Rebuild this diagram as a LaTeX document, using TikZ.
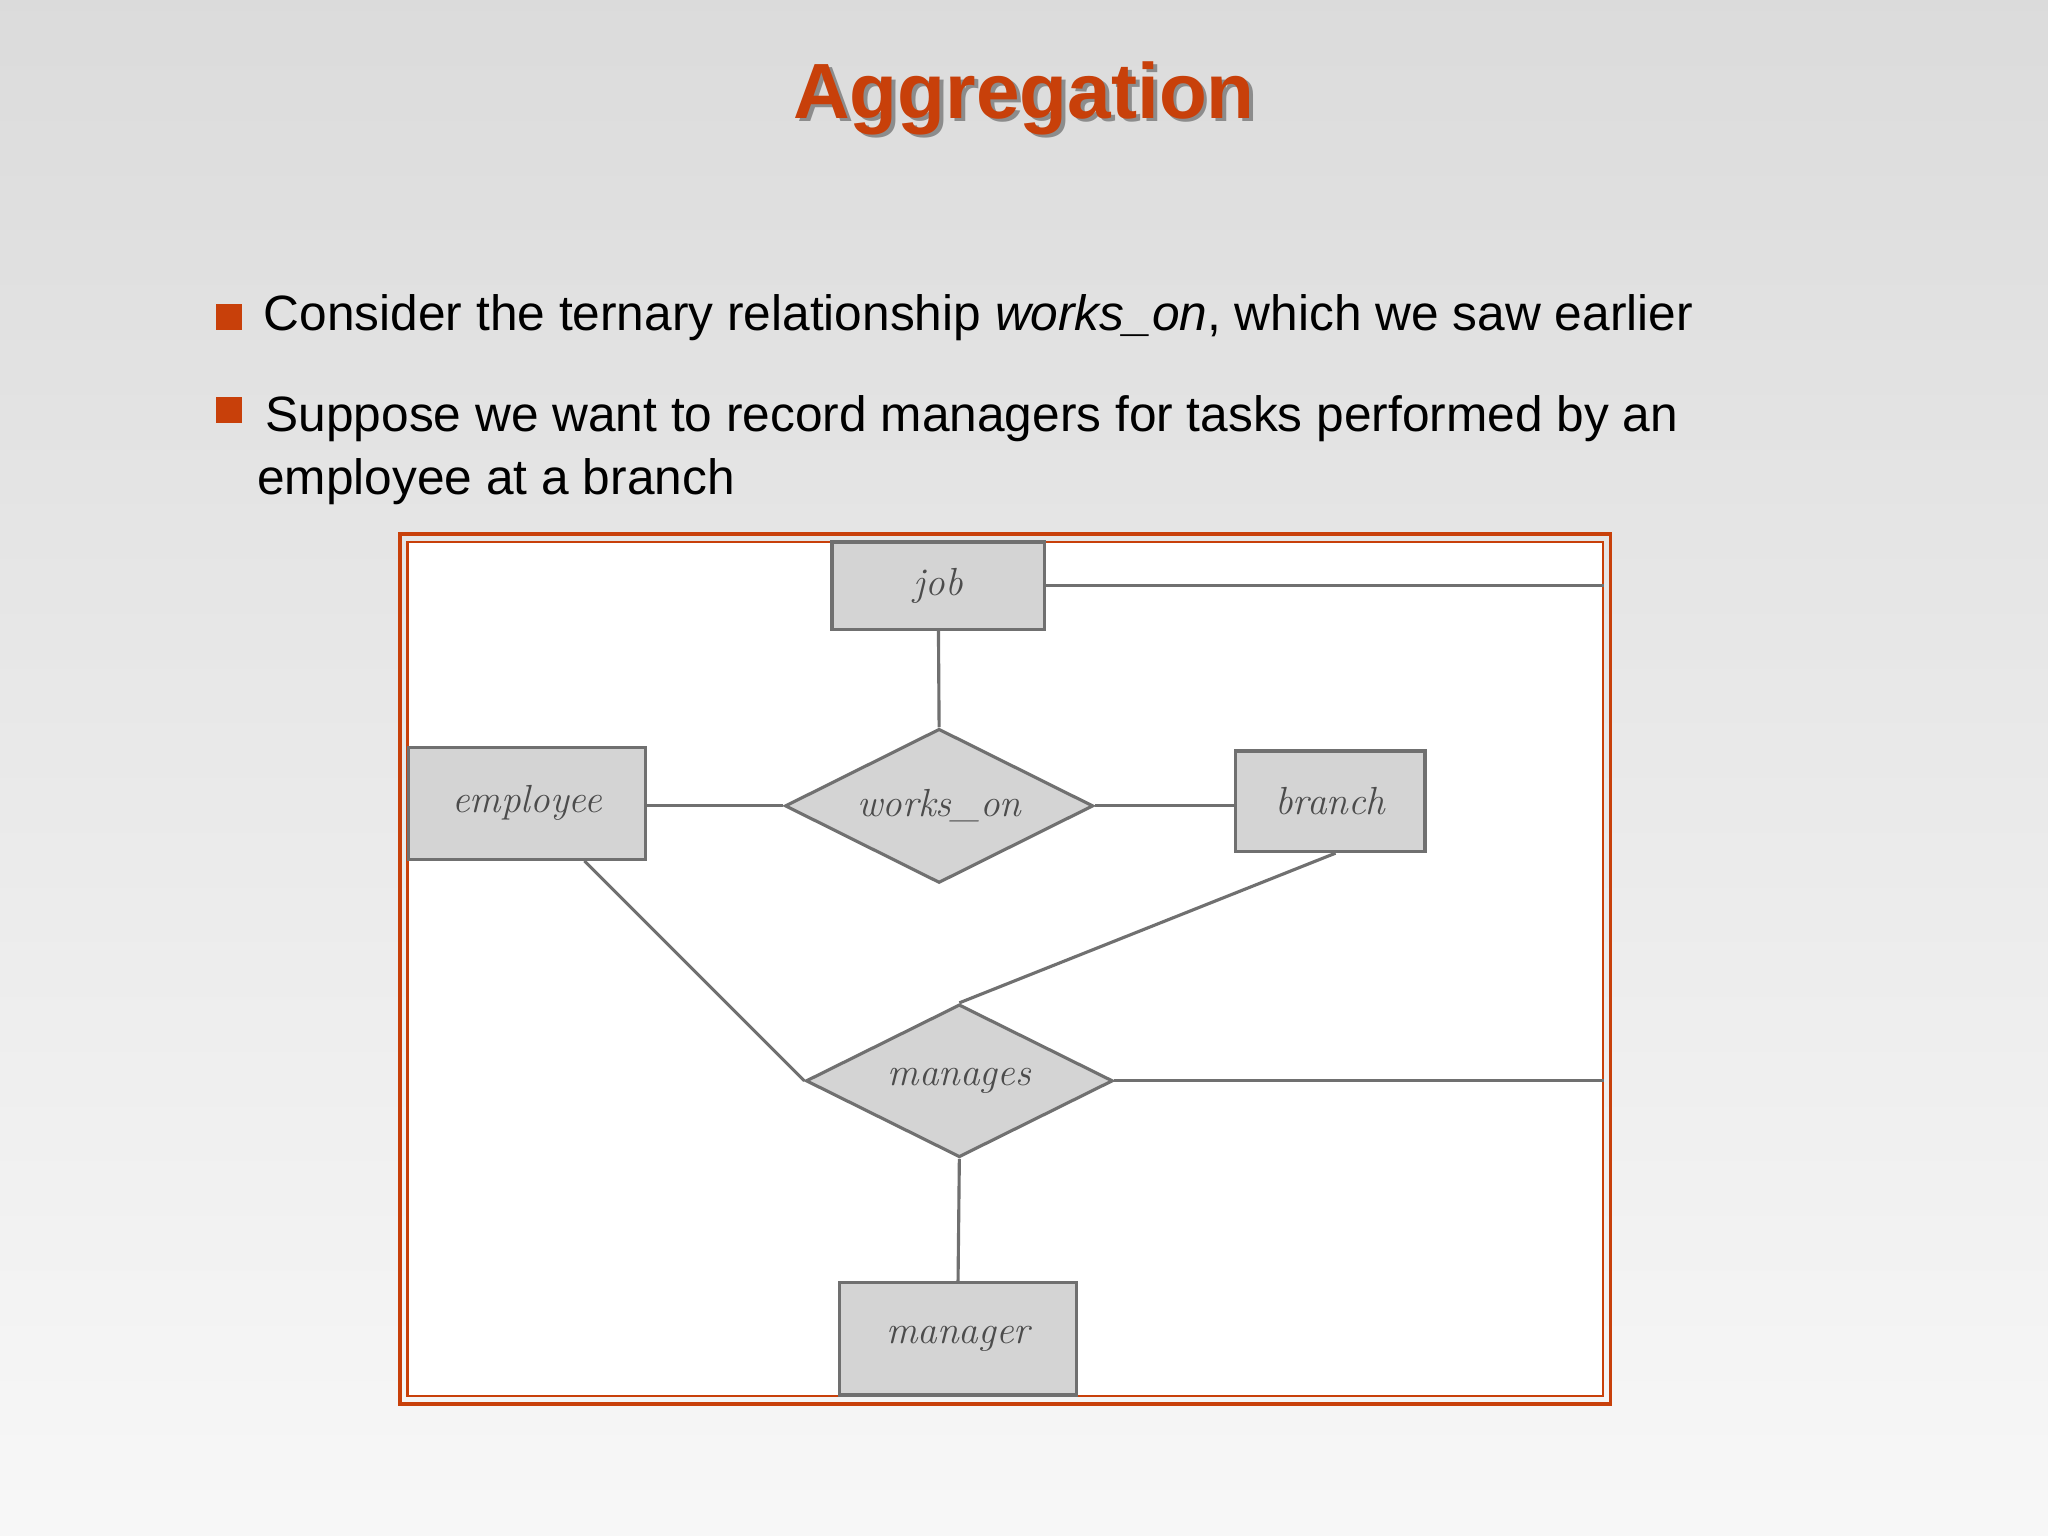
\documentclass[tikz,border=0pt]{standalone}
\usepackage{fontspec}
\setsansfont{Liberation Sans}
\usetikzlibrary{shapes.geometric,calc}
\definecolor{accent}{HTML}{C8400A}
\definecolor{boxfill}{HTML}{D4D4D4}
\definecolor{boxline}{HTML}{707070}
\tikzset{
 ent/.style={draw=boxline,fill=boxfill,line width=1.2pt,inner sep=0pt,font=\itshape\fontsize{15}{15}\selectfont,text=black!70},
 rel/.style={diamond,draw=boxline,fill=boxfill,line width=1.2pt,inner sep=0pt,aspect=2,font=\itshape\fontsize{15}{15}\selectfont,text=black!70},
 conn/.style={draw=boxline,line width=1.2pt},
 bullet/.style={fill=accent,minimum size=10pt,inner sep=0pt},
 btext/.style={font=\sffamily\fontsize{19}{24}\selectfont,anchor=west,align=left}
}
\begin{document}
\begin{tikzpicture}[x=0.5pt,y=-0.5pt]
\useasboundingbox (0,0) rectangle (1568,1176);
\shade[top color=black!14,bottom color=black!3] (0,0) rectangle (1568,1176);
\node[font=\sffamily\bfseries\fontsize{30}{30}\selectfont,text=black!45] (shadow) at (787,78) {Aggregation};
\node[font=\sffamily\bfseries\fontsize{30}{30}\selectfont,text=accent] (title) at (784,75) {Aggregation};
\node[bullet] (b1) at (175,243) {};
\node[btext] (t1) at (195,243) {Consider the ternary relationship \textit{works\_on}, which we saw earlier};
\node[bullet] (b2) at (175,314) {};
\node[btext,anchor=north west] (t2) at (190,296) {\,Suppose we want to record managers for tasks performed by an\\employee at a branch};
\draw[accent,line width=1.5pt] (306,409) rectangle (1233,1075);
\node[draw=accent,line width=0.8pt,fill=white,inner sep=0pt,minimum width=915*0.5pt,minimum height=654*0.5pt] (frame) at (769.5,742) {};
\node[ent,minimum width=163*0.5pt,minimum height=67*0.5pt] (job) at (718.5,448.5) {job};
\node[ent,minimum width=181*0.5pt,minimum height=86*0.5pt] (employee) at (403.5,615) {employee};
\node[ent,minimum width=145*0.5pt,minimum height=77*0.5pt] (branch) at (1018.5,613.5) {branch};
\node[ent,minimum width=181*0.5pt,minimum height=86*0.5pt] (manager) at (733.5,1025) {manager};
\node[rel,minimum width=236*0.5pt,minimum height=118*0.5pt] (works) at (719,617) {works\_on};
\node[rel,minimum width=235*0.5pt,minimum height=117*0.5pt] (manages) at (734.5,827.5) {manages};
\coordinate (jr) at (job.east -| frame.east);
\coordinate (mr) at (manages.east -| frame.east);
\draw[conn] (job.east) -- (jr);
\draw[conn] (job.south) -- (works.north);
\draw[conn] (employee.east |- works.west) -- (works.west);
\draw[conn] (works.east) -- (branch.west |- works.east);
\draw[conn] ([xshift=22pt]employee.south) -- (manages.west);
\draw[conn] ([xshift=2pt]branch.south) -- (manages.north);
\draw[conn] (manages.east) -- (mr);
\draw[conn] (manages.south) -- (manager.north);
\end{tikzpicture}
\end{document}
